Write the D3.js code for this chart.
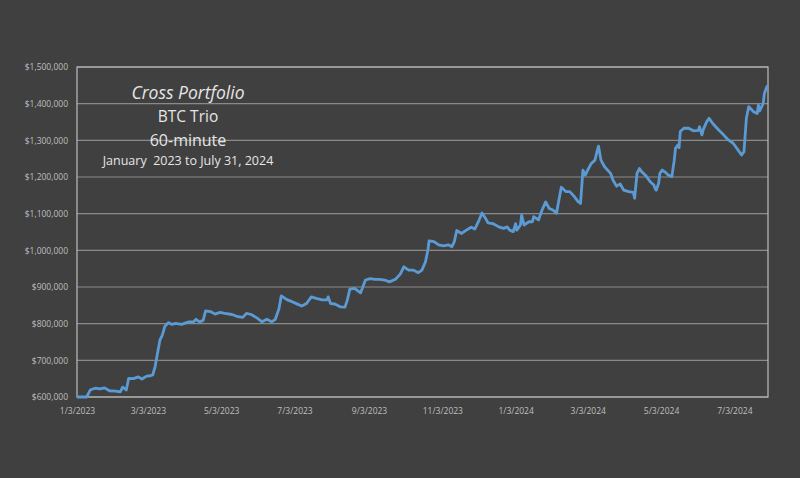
<!DOCTYPE html>
<html>
<head>
<meta charset="utf-8">
<script src="https://cdn.jsdelivr.net/npm/d3@7"></script>
<style>
  body { margin: 0; background: #404040; }
  svg { display: block; }
</style>
</head>
<body>
<div id="chart"></div>
<script>
// equity curve
var dates = [
  "2023-01-03","2023-01-11","2023-01-14","2023-01-18","2023-01-22","2023-01-26","2023-01-30","2023-02-04","2023-02-08","2023-02-10",
  "2023-02-13","2023-02-15","2023-02-19","2023-02-23","2023-02-26","2023-03-02","2023-03-05","2023-03-07","2023-03-09","2023-03-11",
  "2023-03-13","2023-03-15","2023-03-17","2023-03-20","2023-03-23","2023-03-26","2023-03-31","2023-04-06","2023-04-10","2023-04-12",
  "2023-04-15","2023-04-18","2023-04-20","2023-04-24","2023-04-28","2023-05-02","2023-05-06","2023-05-12","2023-05-17","2023-05-21",
  "2023-05-24","2023-05-28","2023-06-02","2023-06-06","2023-06-10","2023-06-14","2023-06-17","2023-06-20","2023-06-22","2023-06-27",
  "2023-07-01","2023-07-05","2023-07-09","2023-07-13","2023-07-17","2023-07-21","2023-07-26","2023-07-30","2023-07-31","2023-08-02",
  "2023-08-06","2023-08-10","2023-08-14","2023-08-16","2023-08-18","2023-08-22","2023-08-27","2023-08-31","2023-09-04","2023-09-08",
  "2023-09-12","2023-09-16","2023-09-20","2023-09-25","2023-09-29","2023-10-02","2023-10-06","2023-10-10","2023-10-14","2023-10-17",
  "2023-10-20","2023-10-22","2023-10-23","2023-10-27","2023-10-31","2023-11-04","2023-11-08","2023-11-11","2023-11-13","2023-11-15",
  "2023-11-19","2023-11-23","2023-11-27","2023-11-30","2023-12-03","2023-12-06","2023-12-09","2023-12-11","2023-12-15","2023-12-20",
  "2023-12-24","2023-12-27","2023-12-29","2024-01-01","2024-01-03","2024-01-04","2024-01-07","2024-01-08","2024-01-10","2024-01-14",
  "2024-01-17","2024-01-18","2024-01-22","2024-01-25","2024-01-28","2024-01-31","2024-02-03","2024-02-06","2024-02-08","2024-02-10",
  "2024-02-14","2024-02-17","2024-02-21","2024-02-24","2024-02-26","2024-02-28","2024-03-01","2024-03-03","2024-03-06","2024-03-09",
  "2024-03-11","2024-03-12","2024-03-14","2024-03-17","2024-03-22","2024-03-24","2024-03-27","2024-03-30","2024-04-02","2024-04-06",
  "2024-04-10","2024-04-11","2024-04-13","2024-04-15","2024-04-17","2024-04-20","2024-04-24","2024-04-27","2024-04-28","2024-04-29",
  "2024-05-01","2024-05-02","2024-05-04","2024-05-07","2024-05-09","2024-05-12","2024-05-14","2024-05-15","2024-05-17","2024-05-18",
  "2024-05-19","2024-05-22","2024-05-26","2024-05-30","2024-06-03","2024-06-04","2024-06-06","2024-06-07","2024-06-10","2024-06-12",
  "2024-06-15","2024-06-20","2024-06-24","2024-06-28","2024-07-02","2024-07-06","2024-07-09","2024-07-11","2024-07-13","2024-07-15",
  "2024-07-19","2024-07-22","2024-07-23","2024-07-24","2024-07-27","2024-07-28","2024-07-30","2024-07-31"
];

var equity = [
  600000,600000,619000,624000,622000,625000,617000,616000,614000,627000,
  619000,651000,650000,655000,649000,657000,658000,660000,683000,719000,
  755000,769000,792000,803000,798000,801000,798000,805000,805000,812000,
  805000,809000,835000,833000,826000,831000,828000,825000,819000,817000,
  828000,825000,815000,805000,812000,805000,812000,840000,876000,865000,
  860000,854000,848000,855000,873000,869000,865000,865000,873000,855000,
  853000,846000,845000,865000,894000,896000,884000,919000,923000,921000,
  921000,919000,914000,921000,935000,955000,946000,946000,939000,946000,
  969000,1001000,1026000,1024000,1015000,1012000,1015000,1010000,1024000,1054000,
  1046000,1055000,1063000,1058000,1078000,1102000,1087000,1075000,1073000,1064000,
  1060000,1064000,1055000,1051000,1073000,1055000,1069000,1096000,1069000,1078000,
  1078000,1092000,1083000,1110000,1132000,1114000,1110000,1101000,1137000,1172000,
  1160000,1160000,1146000,1133000,1128000,1219000,1205000,1219000,1237000,1246000,
  1273000,1284000,1246000,1228000,1210000,1192000,1175000,1181000,1164000,1160000,
  1158000,1142000,1210000,1223000,1214000,1205000,1187000,1178000,1169000,1164000,
  1183000,1210000,1219000,1212000,1205000,1201000,1246000,1278000,1287000,1280000,
  1324000,1333000,1333000,1326000,1327000,1337000,1315000,1328000,1351000,1360000,
  1346000,1328000,1315000,1301000,1292000,1274000,1260000,1269000,1360000,1392000,
  1378000,1373000,1396000,1380000,1401000,1428000,1446000,1450000
];

var yTicks = [600000,700000,800000,900000,1000000,1100000,1200000,1300000,1400000,1500000];
var xTicks = ["2023-01-03","2023-03-03","2023-05-03","2023-07-03","2023-09-03","2023-11-03",
              "2024-01-03","2024-03-03","2024-05-03","2024-07-03"];
var xStart = "2023-01-03", xEnd = "2024-07-31";

var titleLines = ["Cross Portfolio", "BTC Trio", "60-minute", "January  2023 to July 31, 2024"];

var parse = d3.timeParse("%Y-%m-%d");
var data = dates.map(function(d, i){ return {date: parse(d), value: equity[i]}; });

var W = 800, H = 478;
var margin = {top: 67, right: 32, bottom: 81, left: 77},
    width = W - margin.left - margin.right,
    height = H - margin.top - margin.bottom;

var svg = d3.select("#chart")
  .append("svg")
    .attr("width", W)
    .attr("height", H)
    .style("background", "#404040");

var g = svg.append("g")
    .attr("transform", "translate(" + margin.left + "," + margin.top + ")");

var x = d3.scaleTime()
  .domain([parse(xStart), parse(xEnd)])
  .range([0, width]);

var y = d3.scaleLinear()
  .domain([600000, 1500000])
  .range([height, 0]);

// gridlines
g.append("g")
  .selectAll("line")
  .data(yTicks)
  .enter().append("line")
    .attr("x1", 0).attr("x2", width)
    .attr("y1", function(d){ return y(d); })
    .attr("y2", function(d){ return y(d); })
    .style("stroke", "#8a8a8a")
    .style("stroke-width", 1.2);

// frame
g.append("rect")
  .attr("width", width).attr("height", height)
  .style("fill", "none")
  .style("stroke", "#bdbdbd")
  .style("stroke-width", 1.2);

var fmtMoney = d3.format("$,");
var yAxis = g.append("g")
  .call(d3.axisLeft(y).tickValues(yTicks).tickSize(0).tickPadding(9)
    .tickFormat(function(d){ return fmtMoney(d); }));
yAxis.select(".domain").remove();

var fmtDate = function(d){ return (d.getMonth() + 1) + "/" + d.getDate() + "/" + d.getFullYear(); };
var xAxis = g.append("g")
  .attr("transform", "translate(0," + height + ")")
  .call(d3.axisBottom(x).tickValues(xTicks.map(parse)).tickSize(0).tickPadding(11)
    .tickFormat(fmtDate));
xAxis.select(".domain").remove();

svg.selectAll(".tick text")
  .style("font-family", "'Open Sans', sans-serif")
  .style("font-size", "8.5px")
  .style("fill", "#bfbfbf");

// equity line
g.append("path")
  .datum(data)
  .attr("d", d3.line()
    .x(function(d){ return x(d.date); })
    .y(function(d){ return y(d.value); }))
  .style("fill", "none")
  .style("stroke", "#5b9bd5")
  .style("stroke-width", 2.8)
  .style("stroke-linejoin", "round");

// title block
var titleY = [99, 122, 146, 165];
var titleSize = [17.5, 15.5, 16, 12.5];
svg.append("g")
  .selectAll("text")
  .data(titleLines)
  .enter().append("text")
    .attr("x", 188)
    .attr("y", function(d, i){ return titleY[i]; })
    .attr("text-anchor", "middle")
    .style("font-family", "'Open Sans', sans-serif")
    .style("font-size", function(d, i){ return titleSize[i] + "px"; })
    .style("font-style", function(d, i){ return i === 0 ? "italic" : "normal"; })
    .style("fill", "#e6e6e6")
    .style("white-space", "pre")
    .text(function(d){ return d; });
</script>
</body>
</html>
